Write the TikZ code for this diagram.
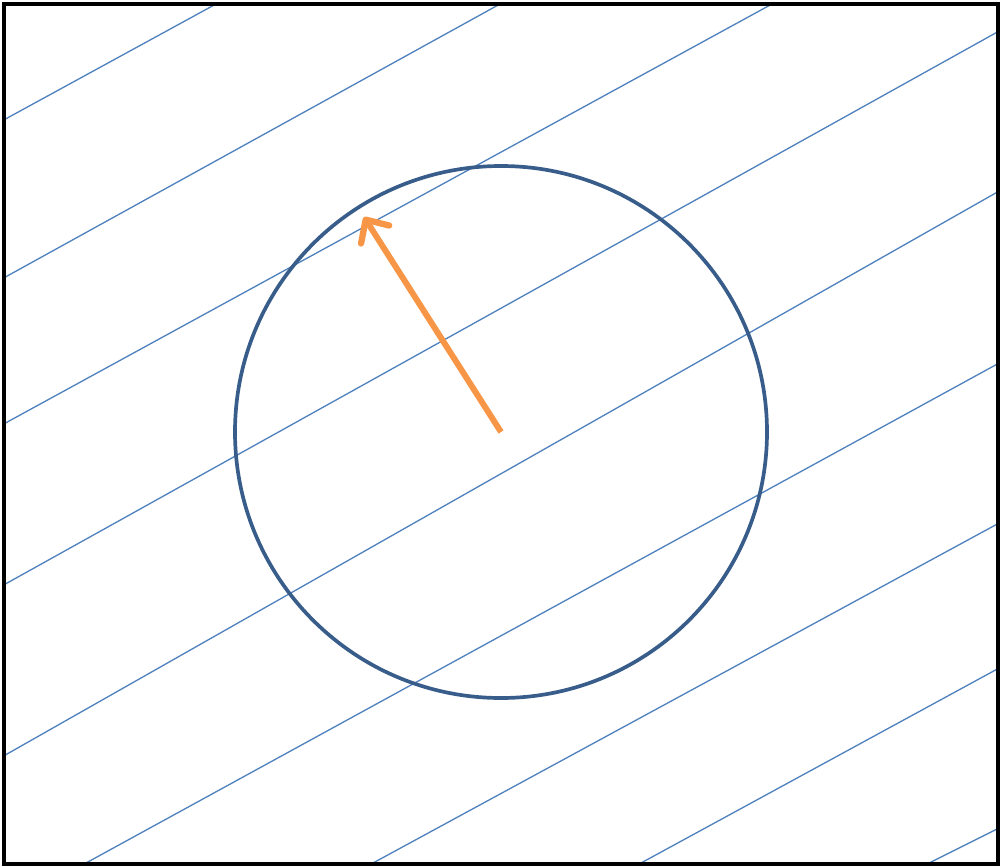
\documentclass[tikz,border=0pt]{standalone}
\usepackage{xcolor}
\usetikzlibrary{arrows.meta}

\definecolor{hatchblue}{HTML}{4F81BD}
\definecolor{ringblue}{HTML}{385D8A}
\definecolor{arroworange}{HTML}{F79646}

\begin{document}
\begin{tikzpicture}[x=0.02cm, y=-0.02cm,
    hatch/.style={draw=hatchblue, line width=0.75pt},
    ring/.style={draw=ringblue, line width=2.1pt},
    pointer/.style={draw=arroworange, line width=3.4pt,
      -{Straight Barb[length=10pt, width=19pt, line width=3.6pt, round]}},
    frame/.style={draw=black, line width=2.8pt}]
  \useasboundingbox (0,0) rectangle (1001,866);

  % parallel field lines
  \begin{scope}
    \clip (4,4) rectangle (998,864);
    \foreach \xa/\ya/\xb/\yb in {0/122/216/4, 0/280/500/4, 0/426/772/4,
        0/587/1001/30, 0/758/1001/190, 86/863/1001/362, 373/863/1001/522,
        641/863/1001/667, 929/863/1001/827}
      \draw[hatch, shorten <=-20pt, shorten >=-20pt] (\xa,\ya) -- (\xb,\yb);
  \end{scope}

  \coordinate (centre) at (501,432);
  \coordinate (tip)    at (364,217);

  \draw[ring] (centre) circle [radius=266];
  \draw[pointer] (centre) -- (tip);

  \draw[frame] (4,4) rectangle (998,864);
\end{tikzpicture}
\end{document}
